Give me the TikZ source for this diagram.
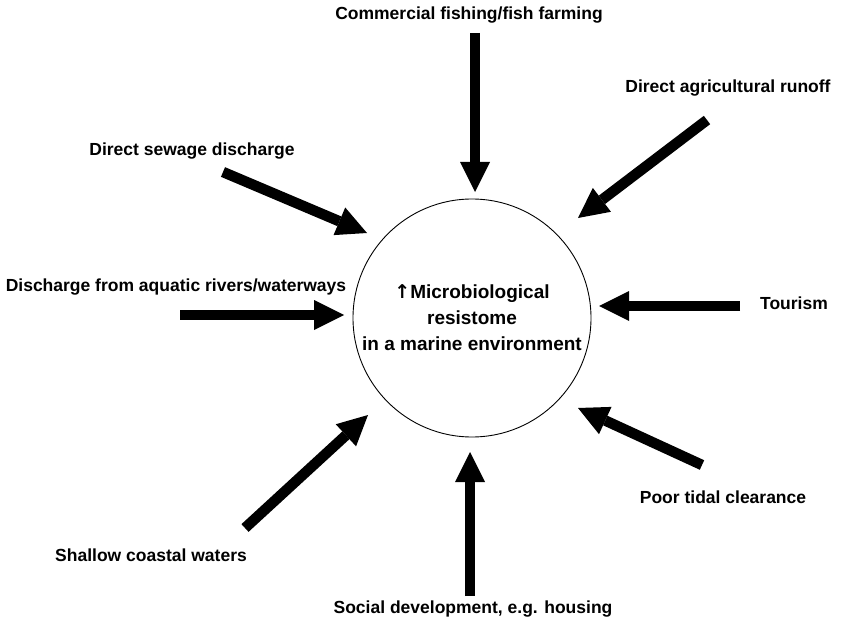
\documentclass[tikz,border=0pt]{standalone}
\usepackage{fontspec}
\setmainfont{Liberation Sans}
\newfontfamily\arrowfont{DejaVu Sans}
\usetikzlibrary{arrows.meta}

\begin{document}
\begin{tikzpicture}[x=1pt,y=-1pt,
        push/.style={line width=10.5pt,-{Triangle[width=30pt,length=30pt,line width=0pt]}},
        lbl/.style={font=\fontsize{17.5}{21}\selectfont\bfseries,inner sep=0pt}]
        \useasboundingbox (0,0) rectangle (841,623);

        \node[draw,circle,line width=0.9pt,minimum size=238pt,align=center,
              font=\fontsize{19}{26}\selectfont\bfseries] (hub) at (472,318)
              {{\arrowfont ↑}Microbiological\\resistome\\in a marine environment};

        \node[lbl] (fishing) at (469,15) {Commercial fishing/fish farming};
        \node[lbl] (runoff)  at (728,88) {Direct agricultural runoff};
        \node[lbl] (sewage)  at (192,151) {Direct sewage discharge};
        \node[lbl] (rivers)  at (176,287) {Discharge from aquatic rivers/waterways};
        \node[lbl] (tourism) at (794,303) {Tourism};
        \node[lbl] (tidal)   at (723,497) {Poor tidal clearance};
        \node[lbl] (coastal) at (151,555) {Shallow coastal waters};
        \node[lbl] (housing) at (473,609) {Social development, e.g. housing};

        \coordinate (fishA) at (475,33);   \coordinate (fishB) at (475,192);
        \coordinate (runA)  at (707,120);  \coordinate (runB)  at (578,218);
        \coordinate (sewA)  at (223,172);  \coordinate (sewB)  at (367,233);
        \coordinate (rivA)  at (180,315);  \coordinate (rivB)  at (344,315);
        \coordinate (touA)  at (740,306);  \coordinate (touB)  at (599,306);
        \coordinate (tidA)  at (702,465);  \coordinate (tidB)  at (578,408);
        \coordinate (coaA)  at (245,528);  \coordinate (coaB)  at (368,415);
        \coordinate (houA)  at (470,596);  \coordinate (houB)  at (470,452);

        \draw[push] (fishA) -- (fishB);
        \draw[push] (runA) -- (runB);
        \draw[push] (sewA) -- (sewB);
        \draw[push] (rivA) -- (rivB);
        \draw[push] (touA) -- (touB);
        \draw[push] (tidA) -- (tidB);
        \draw[push] (coaA) -- (coaB);
        \draw[push] (houA) -- (houB);
    \end{tikzpicture}
\end{document}
